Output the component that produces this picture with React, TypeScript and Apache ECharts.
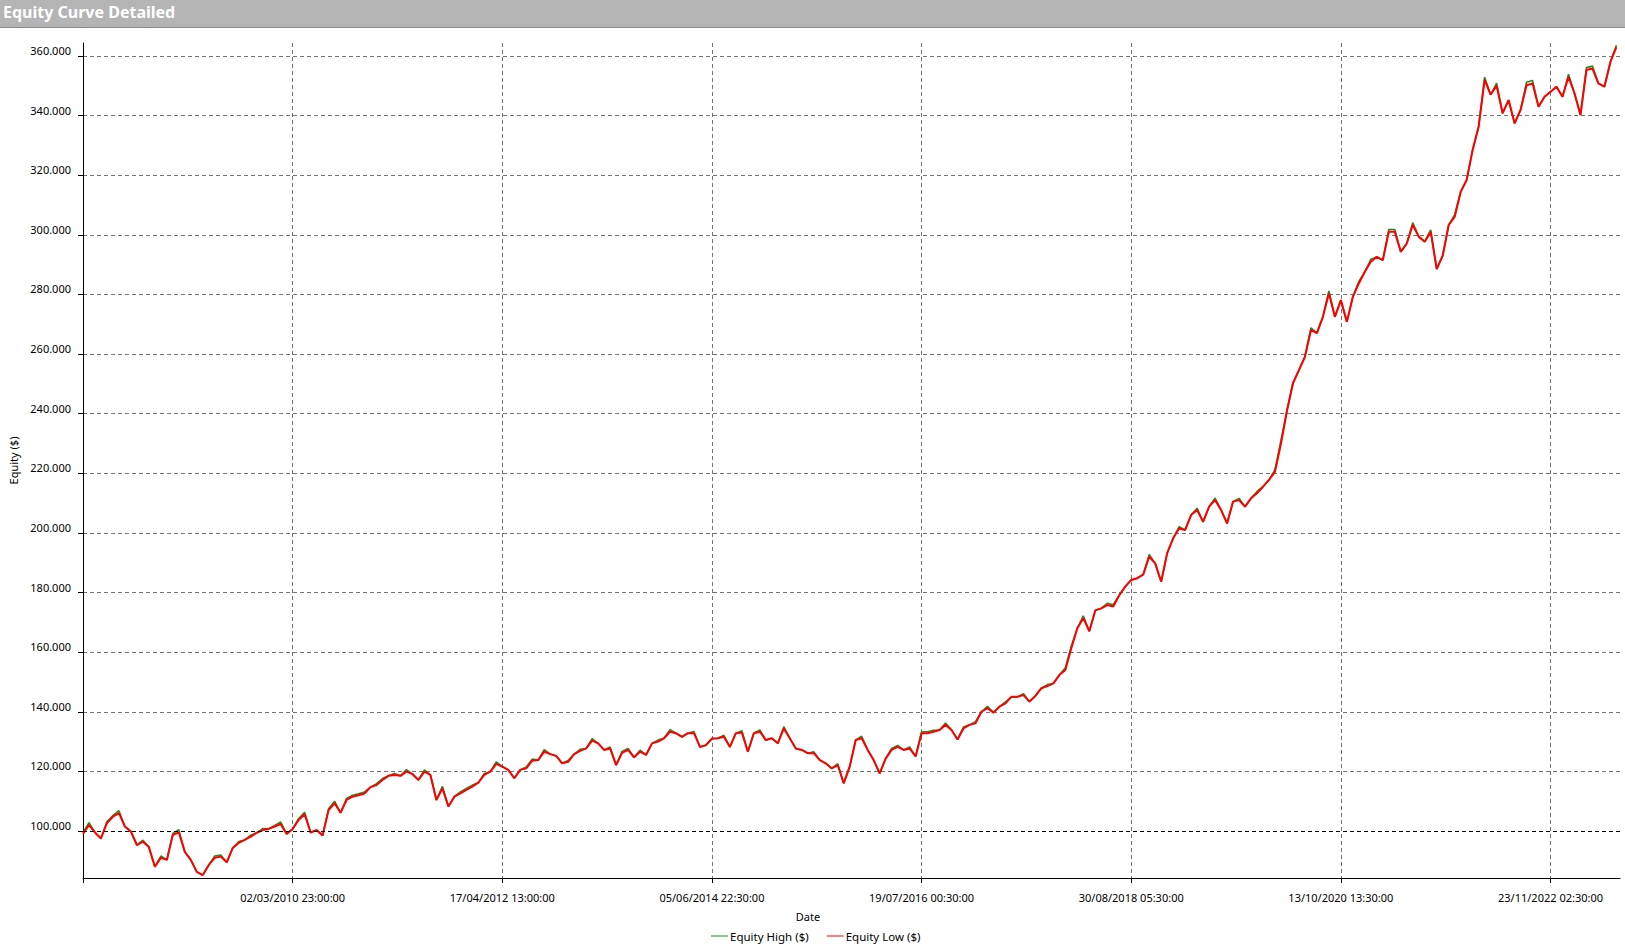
import React, { useEffect, useRef } from "react";
import * as echarts from "echarts";

// Equity curve sampled at regular intervals (values in thousands of $)
const equityLowK: number[] = [
  99.0, 102.0, 99.5, 97.5, 102.7, 104.8, 106.0, 101.5, 99.8, 95.3,
  96.4, 94.6, 88.0, 91.0, 90.3, 98.7, 99.5, 93.0, 90.3, 86.3,
  85.2, 88.6, 91.0, 91.4, 89.5, 94.3, 96.0, 97.0, 98.1, 99.4,
  100.3, 100.7, 101.5, 102.3, 99.0, 100.7, 103.7, 105.6, 99.5, 100.3,
  98.5, 107.0, 109.3, 106.1, 110.4, 111.5, 112.0, 112.6, 114.7, 115.4,
  117.1, 118.5, 118.8, 118.5, 119.9, 119.1, 117.1, 119.9, 118.8, 110.4,
  114.3, 108.2, 111.5, 112.6, 113.8, 114.9, 116.2, 118.8, 119.9, 122.5,
  121.6, 120.5, 117.7, 120.5, 121.0, 123.6, 123.8, 126.6, 125.8, 125.2,
  122.7, 123.2, 125.8, 126.9, 127.7, 130.3, 129.4, 127.2, 127.7, 122.1,
  126.2, 127.2, 124.7, 126.6, 125.5, 129.4, 130.0, 131.1, 133.3, 132.8,
  131.6, 132.8, 132.8, 128.2, 128.8, 131.0, 131.1, 131.6, 128.2, 132.8,
  133.0, 126.6, 132.8, 133.3, 130.5, 131.1, 129.4, 134.4, 131.1, 127.7,
  127.2, 126.1, 126.1, 123.8, 122.7, 121.0, 122.1, 116.0, 121.6, 130.5,
  131.1, 127.2, 123.8, 119.3, 124.3, 127.2, 128.2, 127.2, 127.7, 125.0,
  132.8, 132.8, 133.3, 133.9, 135.6, 133.9, 130.7, 134.4, 135.6, 136.1,
  140.0, 141.2, 139.7, 141.7, 142.8, 145.0, 145.0, 145.6, 143.4, 145.3,
  147.9, 148.6, 149.5, 152.3, 154.0, 161.3, 168.0, 171.4, 167.0, 174.0,
  174.7, 175.8, 175.3, 179.1, 182.0, 184.2, 184.8, 186.0, 192.0, 189.8,
  183.6, 193.2, 198.2, 201.5, 201.0, 206.0, 207.7, 203.7, 208.8, 211.0,
  207.7, 203.2, 210.5, 211.0, 208.8, 211.6, 213.3, 215.5, 217.8, 220.5,
  230.0, 241.0, 250.2, 254.6, 259.1, 268.0, 267.0, 272.5, 280.4, 272.5,
  278.1, 270.8, 279.2, 283.7, 287.6, 291.0, 292.6, 291.5, 301.0, 301.0,
  294.3, 297.1, 303.3, 299.4, 297.7, 301.0, 288.5, 293.0, 303.3, 306.0,
  314.4, 318.4, 328.5, 336.3, 352.0, 347.0, 350.0, 340.8, 345.2, 337.4,
  341.9, 350.2, 350.8, 343.0, 346.3, 348.0, 349.7, 346.3, 353.0, 347.5,
  340.2, 355.3, 355.8, 350.8, 349.7, 358.0, 363.0,
];

const equityHighK: number[] = [
  99.4, 102.8, 99.5, 97.5, 103.2, 105.2, 106.8, 101.5, 99.8, 95.3,
  96.9, 94.6, 88.0, 91.6, 90.3, 99.2, 100.4, 93.0, 90.3, 86.3,
  85.2, 88.6, 91.6, 91.9, 89.5, 94.3, 96.5, 97.0, 98.6, 99.4,
  100.8, 100.7, 101.9, 103.0, 99.0, 100.7, 104.2, 106.3, 99.5, 100.3,
  98.5, 107.5, 110.0, 106.1, 110.9, 112.0, 112.5, 113.1, 114.7, 115.9,
  117.6, 118.5, 119.3, 118.5, 120.6, 119.1, 117.1, 120.5, 118.8, 110.4,
  115.0, 108.2, 111.5, 113.1, 114.3, 115.4, 116.2, 119.3, 119.9, 123.2,
  121.6, 120.5, 117.7, 120.5, 121.5, 124.1, 123.8, 127.3, 125.8, 125.2,
  122.7, 123.7, 125.8, 127.4, 127.7, 131.0, 129.4, 127.2, 128.2, 122.1,
  126.7, 127.7, 124.7, 127.1, 125.5, 129.4, 130.5, 131.1, 134.0, 132.8,
  131.6, 132.8, 133.4, 128.2, 128.8, 131.0, 131.1, 132.1, 128.2, 132.8,
  133.6, 126.6, 132.8, 133.9, 130.5, 131.1, 129.4, 135.0, 131.1, 127.7,
  127.2, 126.1, 126.6, 123.8, 122.7, 121.0, 122.6, 116.0, 121.6, 130.5,
  131.8, 127.2, 123.8, 119.3, 124.3, 127.7, 128.7, 127.2, 128.2, 125.0,
  133.3, 133.3, 133.8, 133.9, 136.2, 133.9, 130.7, 134.9, 135.6, 136.7,
  140.0, 141.8, 139.7, 141.7, 143.3, 145.0, 145.0, 146.1, 143.4, 145.3,
  147.9, 149.1, 149.5, 152.3, 154.8, 162.1, 168.0, 172.2, 167.0, 174.0,
  174.7, 176.4, 175.9, 179.1, 182.0, 184.2, 184.8, 186.0, 192.8, 189.8,
  183.6, 193.2, 198.2, 202.1, 201.0, 206.0, 208.3, 203.7, 208.8, 211.7,
  207.7, 203.2, 210.5, 211.6, 208.8, 211.6, 213.9, 215.5, 217.8, 221.2,
  231.0, 241.0, 250.2, 254.6, 259.1, 268.8, 267.0, 272.5, 281.2, 272.5,
  278.1, 270.8, 279.2, 284.4, 287.6, 291.8, 292.6, 291.5, 301.8, 301.8,
  294.3, 297.1, 304.1, 299.4, 297.7, 301.7, 288.5, 293.0, 303.3, 306.8,
  314.4, 318.4, 328.5, 336.3, 352.9, 347.0, 350.9, 340.8, 345.2, 337.4,
  341.9, 351.2, 351.8, 343.0, 346.3, 348.0, 349.7, 346.3, 353.9, 347.5,
  340.2, 356.1, 356.6, 350.8, 349.7, 358.0, 363.6,
];

// Date labels shown on the x axis, one every SAMPLES_PER_TICK samples
const xTickLabels: string[] = [
  "02/03/2010 23:00:00",
  "17/04/2012 13:00:00",
  "05/06/2014 22:30:00",
  "19/07/2016 00:30:00",
  "30/08/2018 05:30:00",
  "13/10/2020 13:30:00",
  "23/11/2022 02:30:00",
];
const SAMPLES_PER_TICK = 35;
const X_AXIS_MAX = 256.6;

// Y axis tick values (in $)
const yTickValues: number[] = [
  100000, 120000, 140000, 160000, 180000, 200000, 220000, 240000, 260000,
  280000, 300000, 320000, 340000, 360000,
];
const Y_MIN = 84230;
const Y_MAX = 364360;
const STARTING_BALANCE = 100000;

const FONT = "Noto Sans";

export default function App() {
  const ref = useRef<HTMLDivElement>(null);

  useEffect(() => {
    if (!ref.current) return;
    const chart = echarts.init(ref.current, undefined, { renderer: "svg" });

    const lowData = equityLowK.map((v, i) => [i, v * 1000]);
    const highData = equityHighK.map((v, i) => [i, v * 1000]);
    const xLabelPositions = xTickLabels.map((_, k) => (k + 1) * SAMPLES_PER_TICK);
    const xTickPositions = [0, ...xLabelPositions];

    const fmtY = (v: number) => {
      const s = Math.round(v).toString();
      return s.replace(/\B(?=(\d{3})+(?!\d))/g, ".");
    };

    const gridLine = { show: true, lineStyle: { color: "#737373", width: 1, type: [4, 3] as any } };

    chart.setOption({
      animation: false,
      backgroundColor: "#ffffff",
      textStyle: { fontFamily: FONT },
      grid: { left: 83, top: 43, width: 1537, height: 835, outerBoundsMode: "none", containLabel: false },
      xAxis: {
        type: "value",
        min: 0,
        max: X_AXIS_MAX,
        axisLine: { show: true, onZero: false, lineStyle: { color: "#000", width: 1 } },
        axisTick: { show: true, customValues: xTickPositions, length: 5, lineStyle: { color: "#000" } },
        axisLabel: {
          customValues: xLabelPositions,
          formatter: (v: number) => xTickLabels[Math.round(v / SAMPLES_PER_TICK) - 1] ?? "",
          fontSize: 11,
          color: "#000",
          margin: 14,
          fontFamily: FONT,
        },
        splitLine: gridLine,
      },
      yAxis: {
        type: "value",
        min: Y_MIN,
        max: Y_MAX,
        name: "Equity ($)",
        nameLocation: "middle",
        nameGap: 56,
        nameRotate: 90,
        nameTextStyle: { fontSize: 11, color: "#000", fontFamily: FONT },
        axisLine: { show: true, onZero: false, lineStyle: { color: "#000", width: 1 } },
        axisTick: { show: true, customValues: yTickValues, length: 5, lineStyle: { color: "#000" } },
        axisLabel: {
          customValues: yTickValues,
          formatter: (v: number) => fmtY(v),
          fontSize: 11,
          lineHeight: 11,
          verticalAlign: "bottom",
          color: "#000",
          margin: 12,
          fontFamily: FONT,
        },
        splitLine: gridLine,
      },
      legend: {
        data: ["Equity High ($)", "Equity Low ($)"],
        left: 711,
        top: 930,
        padding: 0,
        icon: "rect",
        itemWidth: 17,
        itemHeight: 1,
        itemGap: 18,
        textStyle: { fontSize: 11.5, color: "#000", fontFamily: FONT, padding: [0, 0, 0, -3] },
      },
      graphic: [
        { type: "rect", shape: { x: 0, y: 0, width: 1625, height: 27 }, style: { fill: "#b4b4b4" }, silent: true },
        { type: "line", shape: { x1: 0, y1: 27.5, x2: 1625, y2: 27.5 }, style: { stroke: "#8a8a8a", lineWidth: 1 }, silent: true },
        {
          type: "text",
          x: 3,
          y: 12,
          style: {
            text: "Equity Curve Detailed",
            fill: "#ffffff",
            font: `bold 16px "${FONT}"`,
            textVerticalAlign: "middle",
          },
          silent: true,
        },
        {
          type: "text",
          x: 808,
          y: 916,
          style: {
            text: "Date",
            fill: "#000",
            font: `11px "${FONT}"`,
            textAlign: "center",
            textVerticalAlign: "middle",
          },
          silent: true,
        },
      ],
      series: [
        {
          name: "Equity High ($)",
          type: "line",
          data: highData,
          showSymbol: false,
          symbol: "none",
          itemStyle: { color: "#228b22" },
          lineStyle: { color: "#228b22", width: 1.6 },
          z: 2,
          markLine: {
            silent: true,
            symbol: "none",
            label: { show: false },
            lineStyle: { color: "#000", type: [4, 3] as any, width: 1 },
            data: [{ yAxis: STARTING_BALANCE }],
          },
        },
        {
          name: "Equity Low ($)",
          type: "line",
          data: lowData,
          showSymbol: false,
          symbol: "none",
          itemStyle: { color: "#ff0000" },
          lineStyle: { color: "#ff0000", width: 2 },
          z: 3,
        },
      ],
    });

    return () => chart.dispose();
  }, []);

  return (
    <div
      ref={ref}
      style={{ position: "fixed", left: 0, top: 0, width: 1625, height: 948, background: "#fff" }}
    />
  );
}
